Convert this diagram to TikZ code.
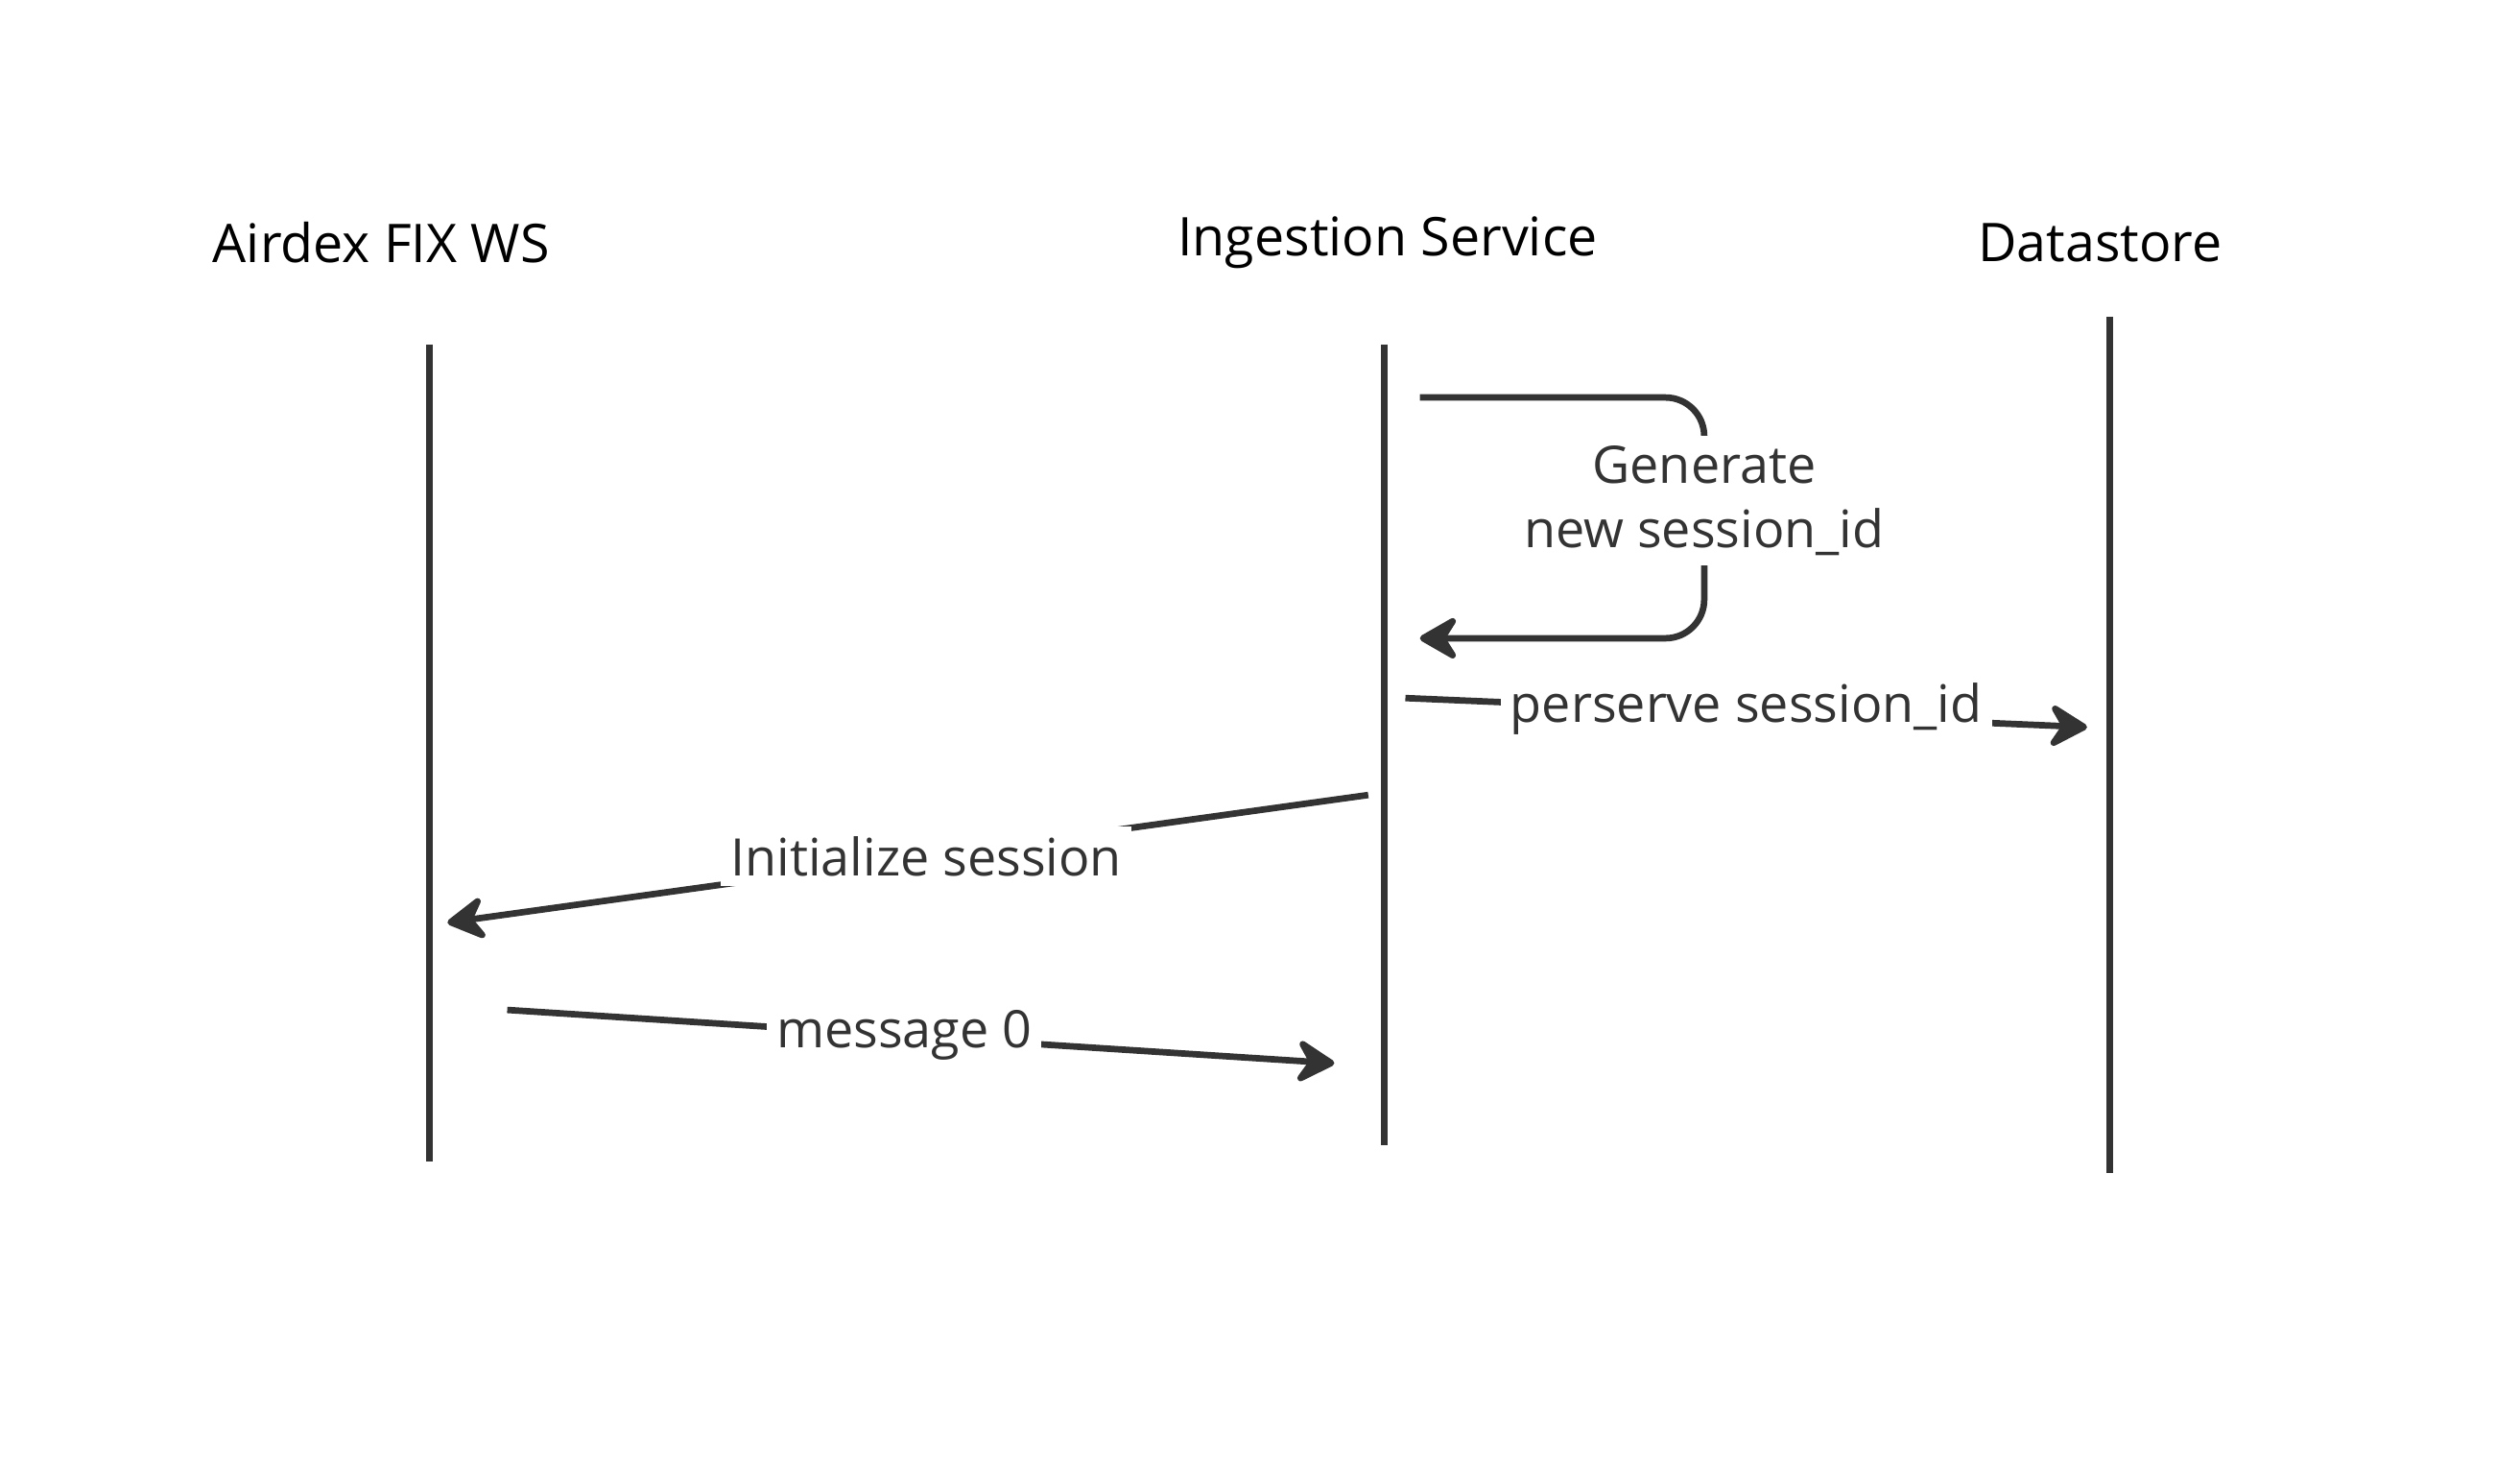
\documentclass[tikz,border=0pt]{standalone}
\usepackage{fontspec}
\setmainfont{Open Sans}
\usetikzlibrary{arrows.meta}
\definecolor{ink}{HTML}{333333}
\begin{document}
\begin{tikzpicture}[x=0.5pt,y=-0.5pt,
  life/.style={line width=2pt,draw=ink},
  msg/.style={line width=2pt,draw=ink,-{Stealth[length=14pt,width=16pt,inset=5pt,round]}},
  lbl/.style={fill=white,text=ink,font=\fontsize{16}{20}\selectfont,inner sep=3pt,align=center},
  ttl/.style={text=black,font=\fontsize{16.5}{20}\selectfont}]
\useasboundingbox (0,0) rectangle (1560,904);
\node[ttl] (t1) at (236,150) {Airdex FIX WS};
\node[ttl] (t2) at (859,150) {Ingestion Service};
\node[ttl] (t3) at (1300,150) {Datastore};
\coordinate (a1) at (266,213); \coordinate (a2) at (266,719);
\coordinate (b1) at (857,213); \coordinate (b2) at (857,709);
\coordinate (c1) at (1306,196); \coordinate (c2) at (1306,726);
\draw[life] (a1)--(a2); \draw[life] (b1)--(b2); \draw[life] (c1)--(c2);
\coordinate (s0) at (879,246); \coordinate (s1) at (1055,246);
\coordinate (s2) at (1055,395); \coordinate (s3) at (879,395);
\draw[msg,rounded corners=12pt] (s0)--(s1)--(s2)--(s3);
\node[lbl] (g) at (1055,310) {Generate\\new session\_id};
\coordinate (p0) at (870,432); \coordinate (p1) at (1292,450);
\draw[msg] (p0)--(p1) node[lbl,midway,yshift=1pt] (pl) {perserve session\_id};
\coordinate (i0) at (847,492); \coordinate (i1) at (277,571);
\draw[msg] (i0)--(i1) node[lbl,pos=0.48] (il) {Initialize session};
\coordinate (m0) at (314,625); \coordinate (m1) at (826,658);
\draw[msg] (m0)--(m1) node[lbl,pos=0.48] (ml) {message 0};
\end{tikzpicture}
\end{document}
